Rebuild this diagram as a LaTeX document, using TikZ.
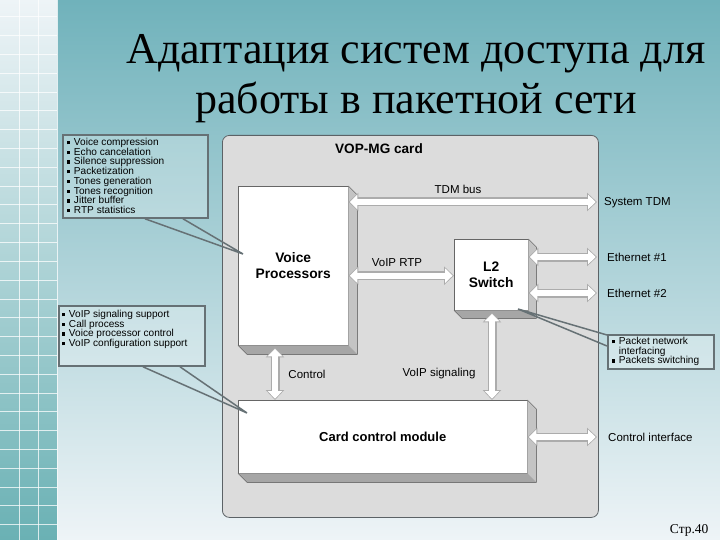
\documentclass[tikz,border=0pt]{standalone}
\usepackage{fontspec}
\setmainfont{Liberation Sans}
\newfontfamily\serifcyr{Liberation Serif}
\usetikzlibrary{arrows.meta}

\definecolor{tealtop}{HTML}{70B2BB}
\definecolor{paleend}{HTML}{EEF4F7}
\definecolor{stripbot}{HTML}{6AB1B4}
\definecolor{cardgray}{HTML}{DCDCDC}
\definecolor{edgegray}{HTML}{5C6266}
\definecolor{sidegray}{HTML}{C4C4C4}
\definecolor{basegray}{HTML}{A6A6A6}
\definecolor{calloutline}{HTML}{667175}

% small square bullet
\newcommand\bul{\rule[0.12em]{0.32em}{0.32em}\hspace{0.35em}}
% extruded right and bottom faces of a box
\newcommand\extrude[2]{%
  \fill[sidegray] (#1.north east) -- ++(#2,#2) -- ([shift={(#2,#2)}]#1.south east) -- (#1.south east) -- cycle;
  \fill[basegray] (#1.south west) -- ++(#2,#2) -- ([shift={(#2,#2)}]#1.south east) -- (#1.south east) -- cycle;
  \draw[gray!60!black, line width=0.4pt] (#1.south west) -- ++(#2,#2) -- ([shift={(#2,#2)}]#1.south east) -- ([shift={(#2,#2)}]#1.north east) -- (#1.north east);}
% white block arrow with heads at both ends
\newcommand\busarrow[2]{%
  \draw[busout] #1 -- #2;
  \draw[busin] #1 -- #2;}

\begin{document}
\begin{tikzpicture}[x=1pt, y=-1pt,
    unit/.style={draw=gray!80!black, line width=0.4pt, fill=white, anchor=north west, inner sep=0pt, align=center, font=\fontsize{13.8}{16}\selectfont\bfseries},
    card/.style={draw=edgegray, line width=0.8pt, fill=cardgray, rounded corners=7pt, anchor=north west},
    lbl/.style={inner sep=0pt, font=\fontsize{11.5}{13}\selectfont},
    callout/.style={draw=calloutline, line width=1.8pt, fill=white, fill opacity=0.26, anchor=north west, inner sep=0pt},
    calltext/.style={anchor=north west, inner sep=0pt, align=left, font=\fontsize{10.1}{9.7}\selectfont},
    pointer/.style={draw=calloutline, line width=1.5pt},
    busout/.style={draw=gray!65, line width=9pt, {Triangle[width=18pt,length=10pt]}-{Triangle[width=18pt,length=10pt]}},
    busin/.style={draw=white, line width=6.4pt, shorten <=1.4pt, shorten >=1.4pt, {Triangle[width=14.4pt,length=7.6pt]}-{Triangle[width=14.4pt,length=7.6pt]}}
]
\useasboundingbox (0,0) rectangle (720,540);

% background: slide area and grid strip
\shade[shading angle=20, top color=tealtop, bottom color=paleend] (57,0) rectangle (720,540);
\shade[top color=paleend, bottom color=stripbot] (0,0) rectangle (57,540);
\foreach \gy in {0,...,27}
  \draw[white, opacity=0.75, line width=1pt] (0,17+18.8*\gy) -- (57,17+18.8*\gy);
\foreach \gx in {19,38.3,57}
  \draw[white, opacity=0.75, line width=1pt] (\gx,0) -- (\gx,540);

% title
\node[anchor=base, font=\serifcyr\fontsize{44}{50}\selectfont] (title1) at (416,64) {Адаптация систем доступа для};
\node[anchor=base, font=\serifcyr\fontsize{44}{50}\selectfont] (title2) at (416,114) {работы в пакетной сети};

% the card and its blocks
\node[card, minimum width=376pt, minimum height=382pt] (card) at (222,135) {};
\node[font=\fontsize{13.6}{16}\selectfont\bfseries] (cardlbl) at (379,149) {VOP-MG card};

\node[unit, minimum width=110pt, minimum height=159pt] (vp) at (238,186) {Voice\\Processors};
\extrude{vp}{9}
\node[unit, minimum width=74pt, minimum height=71pt] (l2) at (454,239) {L2\\Switch};
\extrude{l2}{8}
\node[unit, minimum width=289pt, minimum height=73pt, font=\fontsize{13}{16}\selectfont\bfseries] (ccm) at (238,400) {Card control module};
\extrude{ccm}{9}

% buses
\coordinate (ctrlx) at (275,0);
\coordinate (sigx) at (492,0);
\coordinate (systdm) at (597,202);
\coordinate (eth1) at (597,257);
\coordinate (eth2) at (597,293);
\coordinate (ctrlifc) at (597,437);
\busarrow{(vp.east |- systdm)}{(systdm)}
\busarrow{([yshift=-10pt]vp.east)}{([yshift=-10pt]vp.east -| l2.west)}
\busarrow{(l2.east |- eth1)}{(eth1)}
\busarrow{(l2.east |- eth2)}{(eth2)}
\busarrow{([yshift=-2pt]vp.south -| ctrlx)}{(ccm.north -| ctrlx)}
\busarrow{([yshift=-2pt]l2.south -| sigx)}{(ccm.north -| sigx)}
\busarrow{(ccm.east |- ctrlifc)}{(ctrlifc)}

% bus labels
\node[lbl] (tdmlbl) at (458,189) {TDM bus};
\node[lbl] (rtplbl) at (397,263) {VoIP RTP};
\node[lbl] (ctrllbl) at (307,374) {Control};
\node[lbl] (siglbl) at (439,374) {VoIP signaling};
\node[lbl, anchor=west] (systdmlbl) at (604,203) {System TDM};
\node[lbl, anchor=west] (eth1lbl) at (607,257) {Ethernet \#1};
\node[lbl, anchor=west] (eth2lbl) at (607,293) {Ethernet \#2};
\node[lbl, anchor=west] (ctrlifclbl) at (608,437) {Control interface};

% callouts
\node[callout, minimum width=145pt, minimum height=83pt] (dspbox) at (62,134) {};
\node[calltext] (dsptext) at ([shift={(5,4)}]dspbox.north west) {\bul Voice compression\\\bul Echo cancelation\\\bul Silence suppression\\\bul Packetization\\\bul Tones generation\\\bul Tones recognition\\\bul Jitter buffer\\\bul RTP statistics};
\node[callout, minimum width=146pt, minimum height=60pt] (sigbox) at (58,305) {};
\node[calltext] (sigtext) at ([shift={(4,5)}]sigbox.north west) {\bul VoIP signaling support\\\bul Call process\\\bul Voice processor control\\\bul VoIP configuration support};
\node[callout, minimum width=106pt, minimum height=34pt] (pktbox) at (607,334) {};
\node[calltext] (pkttext) at ([shift={(5,3)}]pktbox.north west) {\bul Packet network\\\hspace*{0.67em}interfacing\\\bul Packets switching};

\coordinate (vptip) at (243,254);
\coordinate (ccmtip) at (247,413);
\coordinate (l2tip) at (518,309);
\draw[pointer] ([xshift=83pt]dspbox.south west) -- (vptip) -- ([xshift=121pt]dspbox.south west);
\draw[pointer] ([xshift=85pt]sigbox.south west) -- (ccmtip) -- ([xshift=122pt]sigbox.south west);
\draw[pointer] ([yshift=-1pt]pktbox.north west) -- (l2tip) -- ([yshift=-12pt]pktbox.north west);

% page number
\node[anchor=base east, font=\serifcyr\fontsize{13.5}{15}\selectfont] (pagenum) at (712,533) {Стр.40};
\end{tikzpicture}
\end{document}
